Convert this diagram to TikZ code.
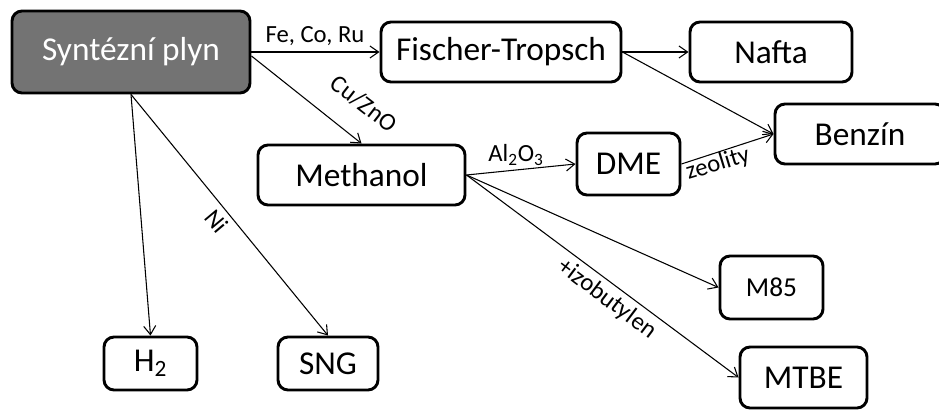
\documentclass[tikz,border=0pt]{standalone}
\usepackage{fontspec}
\setmainfont{Carlito}
\usetikzlibrary{arrows.meta}

\begin{document}
\begin{tikzpicture}[
  x=0.75pt, y=-0.75pt,
  box/.style={draw, line width=2.2pt, rectangle, rounded corners=7.5pt,
              inner sep=0pt, font=\fontsize{25}{29}\selectfont},
  start/.style={box, fill=black!55, text=white},
  edge/.style={-{Straight Barb[length=6.5pt,width=9pt]}, line width=0.8pt},
  lbl/.style={font=\fontsize{18.5}{21}\selectfont, inner sep=1pt}
]
\useasboundingbox (0,0) rectangle (939,410);
% --- nodes -----------------------------------------------------------------
\node[start, minimum width=178.5pt, minimum height=61.5pt] (syn) at (131,52) {Syntézní plyn};
\node[box, minimum width=180pt, minimum height=45pt] (ft) at (501,52) {Fischer-Tropsch};
\node[box, minimum width=121.5pt, minimum height=45pt] (nafta) at (771,52) {Nafta};
\node[box, minimum width=127.5pt, minimum height=45pt] (benzin) at (860,134) {Benzín};
\node[box, minimum width=155.25pt, minimum height=45pt] (meth) at (361.5,175) {Methanol};
\node[box, minimum width=77.25pt, minimum height=46.5pt] (dme) at (628.5,164) {DME};
\node[box, minimum width=77.25pt, minimum height=47.25pt,
      font=\fontsize{20.5}{24}\selectfont] (m85) at (771.5,287.5) {M85};
\node[box, minimum width=95.25pt, minimum height=45.75pt] (mtbe) at (803.5,377.5) {MTBE};
\node[box, minimum width=69.75pt, minimum height=39.75pt] (h2) at (150.5,363.5) {H\textsubscript{2}};
\node[box, minimum width=75pt, minimum height=39.75pt] (sng) at (328,363.5) {SNG};

% --- edges -----------------------------------------------------------------
\draw[edge] (syn.east) -- (ft.west);
\draw[edge] ([yshift=-3pt]syn.east) -- (meth.north);
\draw[edge] (syn.south) -- (h2.north);
\draw[edge] (syn.south) -- (sng.north);
\draw[edge] (ft.east) -- (nafta.west);
\draw[edge] (ft.east) -- (benzin.west);
\draw[edge] (meth.east) -- (dme.west);
\draw[edge] (dme.east) -- (benzin.west);
\foreach \t in {m85,mtbe} \draw[edge] (meth.east) -- (\t.west);

% --- labels ----------------------------------------------------------------
\node[lbl] (fecoru) at (315,36) {Fe, Co, Ru};
\node[lbl, rotate=-38] (cuzno) at (364,104) {Cu/ZnO};
\node[lbl, rotate=-50] (nikl) at (217,221) {Ni};
\node[lbl] (alox) at (516,155) {Al\textsubscript{2}O\textsubscript{3}};
\node[lbl, rotate=17] (zeol) at (718,164) {zeolity};
\node[lbl, rotate=-37] (izo) at (607,299) {+izobutylen};
\end{tikzpicture}
\end{document}
